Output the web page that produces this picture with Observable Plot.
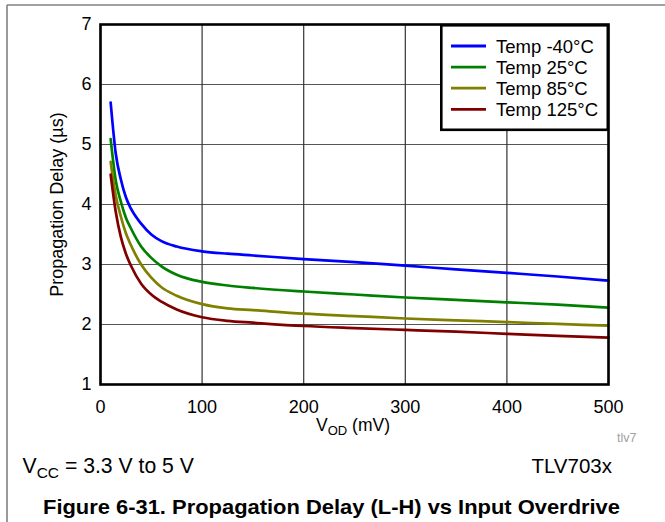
<!DOCTYPE html>
<html><head><meta charset="utf-8">
<script src="https://cdn.jsdelivr.net/npm/d3@7"></script>
<script src="https://cdn.jsdelivr.net/npm/@observablehq/plot@0.6"></script>
<style>
body{margin:0;background:#fff;font-family:"Liberation Sans",Arial,sans-serif;color:#000;}
#wrap{position:relative;width:665px;height:522px;overflow:hidden;background:#fff;}
#chart{position:absolute;left:0;top:0;}
#overlay{position:absolute;left:0;top:0;pointer-events:none;}
</style></head><body><div id="wrap">
<div id="chart"></div>
<svg id="overlay" width="665" height="522"></svg>
</div>
<script>
const vod = [10, 15, 20, 25, 30, 40, 50, 60, 75, 100, 125, 150, 200, 250, 300, 350, 400, 450, 500];
const tempM40 = [5.70, 4.85, 4.42, 4.12, 3.93, 3.68, 3.50, 3.39, 3.30, 3.22, 3.18, 3.15, 3.09, 3.04, 2.98, 2.92, 2.86, 2.80, 2.73];
const temp25  = [5.09, 4.40, 4.05, 3.78, 3.60, 3.30, 3.11, 2.97, 2.83, 2.71, 2.65, 2.61, 2.55, 2.50, 2.45, 2.41, 2.37, 2.33, 2.28];
const temp85  = [4.71, 4.15, 3.80, 3.52, 3.32, 3.00, 2.78, 2.62, 2.48, 2.34, 2.27, 2.24, 2.18, 2.14, 2.10, 2.07, 2.04, 2.01, 1.98];
const temp125 = [4.50, 3.88, 3.46, 3.18, 2.98, 2.68, 2.50, 2.38, 2.25, 2.12, 2.06, 2.03, 1.975, 1.94, 1.91, 1.88, 1.845, 1.81, 1.78];
const seriesNames = ["Temp -40°C", "Temp 25°C", "Temp 85°C", "Temp 125°C"];
const seriesColors = ["#0000ff", "#008000", "#808000", "#800000"];
const xTicks = [0, 100, 200, 300, 400, 500];
const yTicks = [1, 2, 3, 4, 5, 6, 7];

const allSeries = [tempM40, temp25, temp85, temp125];
const rows = [];
allSeries.forEach((vals, i) => vals.forEach((v, j) => rows.push({x: vod[j], y: v, s: seriesNames[i]})));

const FONT = '"Liberation Sans", Arial, Helvetica, sans-serif';
const chart = Plot.plot({
  width: 665,
  height: 420,
  marginTop: 24,
  marginLeft: 100,
  marginRight: 57,
  marginBottom: 36,
  style: {fontFamily: FONT, fontSize: "18px", color: "#000", background: "transparent"},
  x: {domain: [0, 500]},
  y: {domain: [1, 7]},
  color: {domain: seriesNames, range: seriesColors},
  marks: [
    Plot.gridY(yTicks, {stroke: "#555", strokeOpacity: 1, strokeWidth: 1.2}),
    Plot.gridX(xTicks, {stroke: "#333", strokeOpacity: 1, strokeWidth: 1.2}),
    Plot.line(rows, {x: "x", y: "y", z: "s", stroke: "s", strokeWidth: 2.7, curve: "monotone-x"}),
    Plot.frame({stroke: "#000", strokeWidth: 2.6}),
    Plot.axisX(xTicks, {tickSize: 0, tickPadding: 16, label: null, fontSize: 18, tickFormat: "d"}),
    Plot.axisY(yTicks, {tickSize: 0, tickPadding: 9, label: "Propagation Delay (µs)", labelAnchor: "center", labelOffset: 50, labelArrow: "none", fontSize: 18, tickFormat: "d"})
  ]
});
document.getElementById("chart").appendChild(chart);

// overlay: page border, legend, annotation texts
const ov = d3.select("#overlay").style("font-family", FONT);
ov.append("line").attr("x1", 7).attr("x2", 665).attr("y1", 5).attr("y2", 5).attr("stroke", "#808080").attr("stroke-width", 1.6);
ov.append("line").attr("x1", 7).attr("x2", 7).attr("y1", 5).attr("y2", 522).attr("stroke", "#808080").attr("stroke-width", 1.6);

// legend box
const lg = ov.append("g");
lg.append("rect").attr("x", 441.3).attr("y", 25.3).attr("width", 166.5).attr("height", 104.5)
  .attr("fill", "#fff").attr("stroke", "#000").attr("stroke-width", 2.6);
seriesNames.forEach((n, i) => {
  const cy = 46 + i * 21.1;
  lg.append("line").attr("x1", 451).attr("x2", 486).attr("y1", cy).attr("y2", cy)
    .attr("stroke", seriesColors[i]).attr("stroke-width", 2.8);
  lg.append("text").attr("x", 496).attr("y", cy + 6.5).attr("font-size", 18.5).attr("fill", "#000").text(n);
});

// x-axis label with subscript
const xl = ov.append("text").attr("x", 353).attr("y", 431).attr("text-anchor", "middle").attr("font-size", 17.5);
xl.append("tspan").text("V");
xl.append("tspan").attr("font-size", 13).attr("dy", 4).text("OD");
xl.append("tspan").attr("dy", -4).text(" (mV)");

ov.append("text").attr("x", 617).attr("y", 442).attr("font-size", 12.5).attr("fill", "#a0a0a0").text("tlv7");

const vcc = ov.append("text").attr("x", 22.5).attr("y", 472.5).attr("font-size", 21.2);
vcc.append("tspan").text("V");
vcc.append("tspan").attr("font-size", 15.5).attr("dy", 5).text("CC");
vcc.append("tspan").attr("dy", -5).text(" = 3.3 V to 5 V");

ov.append("text").attr("x", 612).attr("y", 472.5).attr("text-anchor", "end").attr("font-size", 20.5).text("TLV703x");

ov.append("text").attr("x", 43).attr("y", 513.5).attr("font-size", 21)
  .attr("textLength", 577).attr("lengthAdjust", "spacingAndGlyphs")
  .attr("font-weight", "bold").text("Figure 6-31. Propagation Delay (L-H) vs Input Overdrive");
</script>
</body></html>
